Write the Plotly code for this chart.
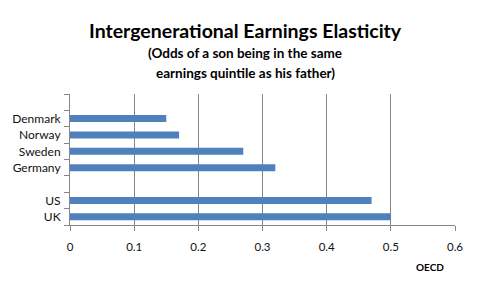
import plotly.graph_objects as go

# Data (bottom-to-top order for plotly categorical axis)
countries = ["UK", "US", " ", "Germany", "Sweden", "Norway", "Denmark", "  "]
elasticity = [0.50, 0.47, None, 0.32, 0.27, 0.17, 0.15, None]
x_ticks = [0, 0.1, 0.2, 0.3, 0.4, 0.5, 0.6]
x_tick_labels = ["0", "0.1", "0.2", "0.3", "0.4", "0.5", "0.6"]

font_family = "Lato, 'Open Sans', sans-serif"
axis_color = "#868686"

L, R, T, B = 68, 22, 94, 62
W, H = 477, 287
plot_w = W - L - R
plot_h = H - T - B


def px_to_paper(xp, yp):
    return (xp - L) / plot_w, (H - B - yp) / plot_h


fig = go.Figure(
    go.Bar(
        y=countries,
        x=elasticity,
        orientation="h",
        marker=dict(color="#4F81BD", line=dict(width=0)),
        hoverinfo="x+y",
    )
)

texts = [
    ("<b>Intergenerational Earnings Elasticity</b>", 244, 30, 19.5),
    ("<b>(Odds of a son being in the same</b>", 244, 53, 13.5),
    ("<b>earnings quintile as his father)</b>", 244, 73, 13.5),
    ("<b>OECD</b>", 430, 267, 10),
]
annotations = []
for t, xp, yp, sz in texts:
    xx, yy = px_to_paper(xp, yp)
    annotations.append(dict(text=t, x=xx, y=yy, xref="paper", yref="paper",
                            xanchor="center", yanchor="middle",
                            showarrow=False, font=dict(size=sz)))

fig.update_layout(
    width=W,
    height=H,
    margin=dict(l=L, r=R, t=T, b=B),
    paper_bgcolor="white",
    plot_bgcolor="white",
    bargap=0.57,
    showlegend=False,
    font=dict(family=font_family, color="#000000"),
    annotations=annotations,
)

fig.update_xaxes(
    range=[0, 0.6],
    tickvals=x_ticks,
    ticktext=x_tick_labels,
    showgrid=True,
    gridcolor=axis_color,
    gridwidth=1,
    zeroline=False,
    showline=True,
    linecolor=axis_color,
    linewidth=1,
    ticks="outside",
    ticklen=5,
    tickcolor=axis_color,
    ticklabelstandoff=6,
    tickfont=dict(size=11.5, color="#111111"),
)
fig.update_yaxes(
    type="category",
    categoryorder="array",
    categoryarray=countries,
    range=[-0.5, 7.5],
    showgrid=False,
    showline=True,
    linecolor=axis_color,
    linewidth=1,
    ticks="outside",
    tickson="boundaries",
    ticklen=5,
    tickcolor=axis_color,
    ticklabelstandoff=6,
    tickfont=dict(size=12, color="#111111"),
)

fig.write_html("out.html")
